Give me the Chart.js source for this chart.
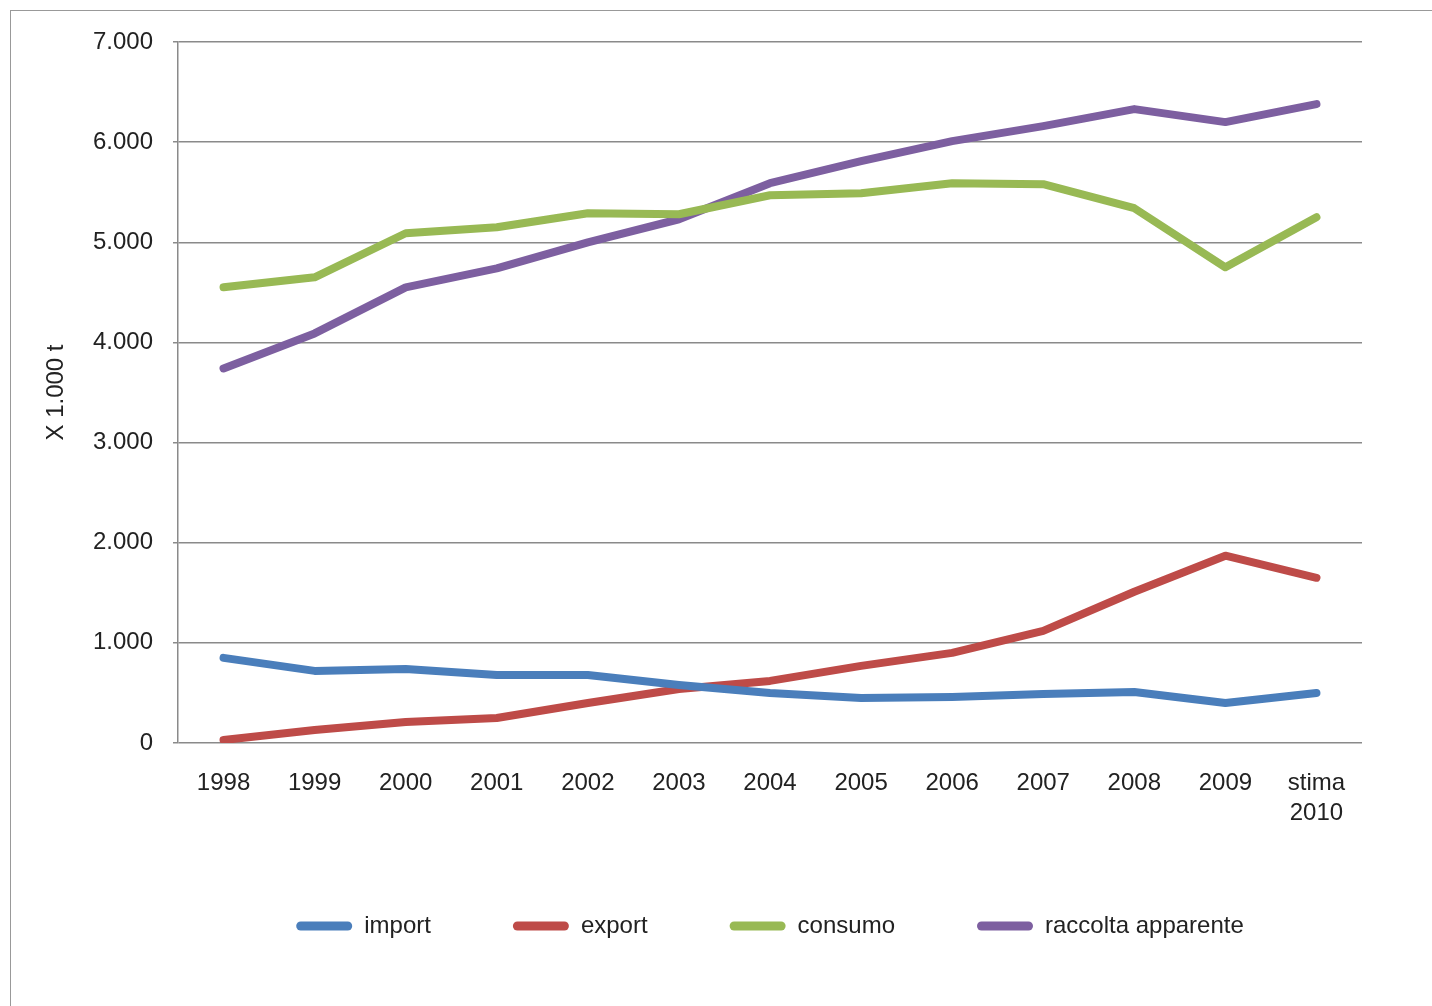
<!DOCTYPE html>
<html>
<head>
<meta charset="utf-8">
<script src="https://cdn.jsdelivr.net/npm/chart.js@4/dist/chart.umd.min.js"></script>
<style>
  html, body { margin: 0; padding: 0; background: #fff; overflow: hidden; }
  #frame { position: absolute; left: 10px; top: 10px; width: 1600px; height: 1200px;
           border-left: 1px solid #999; border-top: 1px solid #999; }
  #chart { position: absolute; left: 0; top: 0; }
</style>
</head>
<body>
<div id="frame"></div>
<canvas id="chart" width="1432" height="1006"></canvas>
<script>
// anni (l'ultimo è una stima)
const years = ['1998', '1999', '2000', '2001', '2002', '2003', '2004',
  '2005', '2006', '2007', '2008', '2009', ['stima', '2010']];

// valori in migliaia di tonnellate
const importData = [850, 720, 740, 680, 680, 580, 500, 450, 460, 490, 510, 400, 500];
const exportData = [30, 130, 210, 250, 400, 540, 620, 770, 900, 1120, 1510, 1870, 1650];
const consumoData = [4550, 4650, 5090, 5150, 5290, 5280, 5470, 5490, 5590, 5580, 5340, 4750, 5250];
const raccoltaData = [3740, 4090, 4550, 4740, 5000, 5230, 5590, 5810, 6010, 6160, 6330, 6200, 6380];

const yMax = 7000;
const yStep = 1000;

const font = 'Liberation Sans, Arial, sans-serif';
const textColor = '#222';

// 7000 -> "7.000"
const fmt = (v) => String(v).replace(/\B(?=(\d{3})+(?!\d))/g, '.');

const serie = (label, data, color) => ({
  label,
  data,
  borderColor: color,
  backgroundColor: color,
  borderWidth: 8,
  borderCapStyle: 'round',
  borderJoinStyle: 'round',
  pointRadius: 0,
  tension: 0,
});

const ctx = document.getElementById('chart').getContext('2d');

// eslint-disable-next-line no-unused-vars
const chart = new Chart(ctx, {
  type: 'line',
  data: {
    labels: years,
    datasets: [
      serie('import', importData, '#4a7ebb'),
      serie('export', exportData, '#be4b48'),
      serie('consumo', consumoData, '#98b954'),
      serie('raccolta apparente', raccoltaData, '#7d5fa0'),
    ],
  },
  options: {
    responsive: false,
    animation: false,
    layout: { padding: { left: 0, top: 42, right: 70, bottom: 58 } },
    plugins: {
      tooltip: { enabled: false },
      legend: {
        position: 'bottom',
        fullSize: false,
        labels: {
          color: textColor,
          font: { family: font, size: 24 },
          boxWidth: 56,
          boxHeight: 9,
          padding: 82,
          useBorderRadius: true,
          borderRadius: 4.5,
          generateLabels: (c) => Chart.defaults.plugins.legend.labels.generateLabels(c)
            .map((item) => ({ ...item, lineWidth: 0 })),
        },
      },
    },
    scales: {
      x: {
        offset: true,
        grid: { display: false },
        border: { display: false },
        ticks: {
          color: textColor,
          font: { family: font, size: 24, lineHeight: 1.25 },
          padding: 17,
          maxRotation: 0,
          autoSkip: false,
        },
        afterFit: (s) => { s.height = 89; },
      },
      y: {
        min: 0,
        max: yMax,
        grid: { color: '#8a8a8a', lineWidth: 1.5, tickLength: 5 },
        border: { display: true, color: '#8a8a8a', width: 1.5 },
        ticks: {
          stepSize: yStep,
          color: textColor,
          font: { family: font, size: 24 },
          padding: 20,
          callback: (v) => fmt(v),
        },
        title: {
          display: true,
          text: 'X 1.000 t',
          color: textColor,
          font: { family: font, size: 24 },
          padding: { top: 42, bottom: 0 },
        },
        afterFit: (s) => { s.width = 178; },
      },
    },
  },
});
</script>
</body>
</html>
